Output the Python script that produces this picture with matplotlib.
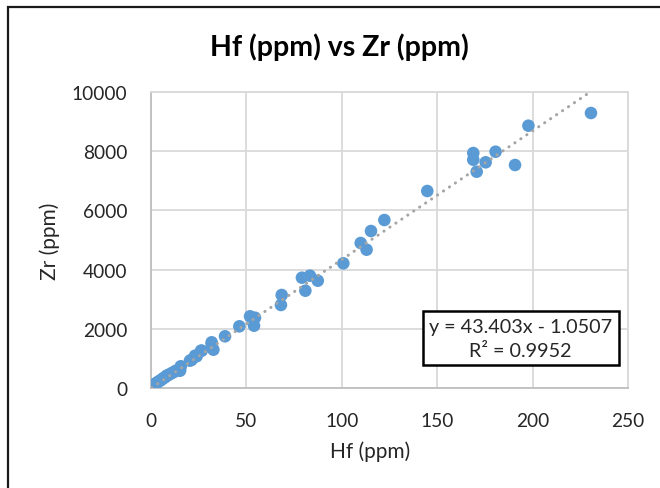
import matplotlib
matplotlib.use('Agg')
import matplotlib.pyplot as plt
import matplotlib.patches as patches
import numpy as np

plt.rcParams['font.family'] = ['Lato', 'DejaVu Sans']

# Hf vs Zr (ppm)
hf = [0.4, 0.9, 1.2, 2.0, 3.0, 3.8, 4.7, 5.5, 6.4, 7.3, 8.2, 9.1, 10.5, 11.7, 13.0,
      15.2, 15.6, 15.2, 20.4, 21.3, 23.1, 23.9, 26.2, 26.6, 31.8, 31.8, 32.7, 38.8,
      46.3, 51.9, 54.5, 54.0, 68.5, 68.1, 79.1, 83.3, 87.4, 80.9, 100.8, 109.9,
      113.0, 115.3, 122.3, 144.8, 168.9, 168.9, 170.7, 175.4, 180.6, 190.8, 197.8, 230.6]
zr = [67, 88, 111, 150, 180, 223, 256, 290, 337, 370, 425, 448, 500, 539, 590,
      627, 742, 593, 931, 960, 1099, 1079, 1268, 1268, 1551, 1494, 1301, 1753,
      2090, 2427, 2380, 2111, 3146, 2809, 3729, 3797, 3628, 3291, 4214, 4899,
      4673, 5303, 5674, 6652, 7933, 7707, 7303, 7620, 7977, 7529, 8854, 9282]

# linear trendline as reported in the chart
slope = 43.403
intercept = -1.0507
r2 = 0.9952

fig = plt.figure(figsize=(6.6, 4.89), dpi=100)
ax = fig.add_axes([0.2288, 0.2039, 0.7227, 0.6065])

ax.scatter(hf, zr, s=82, color='#5B9BD5', edgecolors='none', zorder=3)

xt = np.array([min(hf), max(hf)])
ax.plot(xt, slope * xt + intercept, color='#A5A5A5', lw=2.2,
        linestyle=(0, (0.05, 2.3)), dash_capstyle='round', zorder=4)

ax.set_xlim(0, 250)
ax.set_ylim(0, 10000)
ax.set_xticks(np.arange(0, 251, 50))
ax.set_yticks(np.arange(0, 10001, 2000))
ax.grid(True, color='#D9D9D9', lw=1.3)
ax.set_axisbelow(True)
for s in ax.spines.values():
    s.set_color('#D9D9D9')
    s.set_linewidth(1.3)
ax.spines['left'].set_color('#BFBFBF')
ax.spines['bottom'].set_color('#BFBFBF')
ax.tick_params(length=0, labelsize=13.8, colors='#262626')
ax.tick_params(axis='x', pad=17)
ax.tick_params(axis='y', pad=17)

ax.set_xlabel('Hf (ppm)', fontsize=15, color='#262626')
ax.xaxis.set_label_coords(0.459, -0.176)
ax.set_ylabel('Zr (ppm)', fontsize=15, color='#262626')
ax.yaxis.set_label_coords(-0.19, 0.5)

fig.text(0.514, 0.904, 'Hf (ppm) vs Zr (ppm)', ha='center', va='center',
         fontsize=20.5, fontweight='bold', color='#000000')

eq = f'y = {slope}x - {abs(intercept)}\nR² = {r2}'
ax.text(0.775, 0.169, eq, transform=ax.transAxes, ha='center', va='center',
        multialignment='center', fontsize=14.2, linespacing=1.5, color='#262626',
        zorder=5,
        bbox=dict(boxstyle='square,pad=0.32', fc='white', ec='black', lw=1.8))

# chart border (runs off the right and bottom of the crop)
fig.patches.append(patches.Rectangle((8 / 660, -0.2), 1.2, 1.2 - 8 / 489,
                                     transform=fig.transFigure, fill=False,
                                     ec='#1a1a1a', lw=1.6))

fig.savefig('out.png', dpi=100)
